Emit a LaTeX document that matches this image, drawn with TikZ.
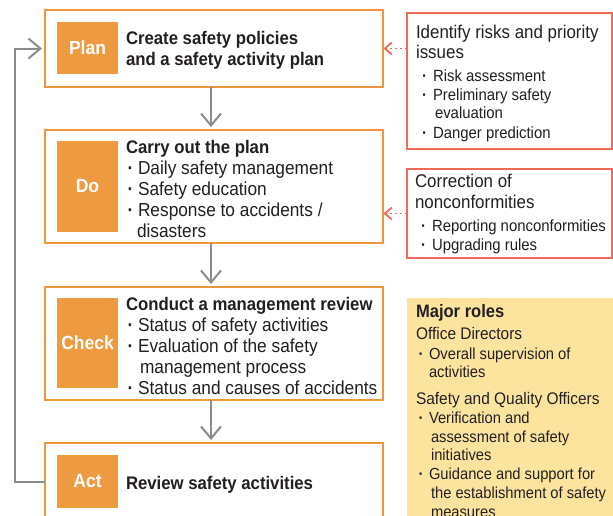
\documentclass[tikz,border=0pt]{standalone}
\usepackage{fontspec}
\setmainfont{Liberation Sans}[FakeStretch=0.92]
\usetikzlibrary{arrows.meta}
\definecolor{orng}{HTML}{EF963D}
\definecolor{lblorng}{HTML}{EE9A40}
\definecolor{redb}{HTML}{EF6A5A}
\definecolor{yel}{HTML}{FDE49E}
\definecolor{grayl}{HTML}{8C8C8E}
\definecolor{ink}{HTML}{231F20}
\newcommand\bl[1]{\makebox[#1][l]{\bfseries·}}
\begin{document}
\begin{tikzpicture}[x=1pt,y=-1pt,
  stagebox/.style={draw=orng,line width=2pt,fill=white,anchor=north west,inner sep=0pt,outer sep=0pt,minimum width=338pt},
  stagelbl/.style={fill=lblorng,text=white,font=\fontsize{19}{21}\selectfont\bfseries,anchor=north west,inner sep=0pt,outer sep=0pt,minimum width=61pt},
  sidebox/.style={draw=redb,line width=2pt,fill=white,anchor=north west,inner sep=0pt,outer sep=0pt,minimum width=205pt},
  txt/.style={anchor=base west,inner sep=0pt,outer sep=0pt,text=ink},
  mainhd/.style={txt,font=\fontsize{18.2}{21}\selectfont\bfseries},
  mainit/.style={txt,font=\fontsize{18.8}{21}\selectfont},
  sidehd/.style={txt,font=\fontsize{18.4}{21}\selectfont},
  sideit/.style={txt,font=\fontsize{16.2}{19}\selectfont},
  rolehd/.style={txt,font=\fontsize{18}{21}\selectfont\bfseries},
  rolesub/.style={txt,font=\fontsize{16.8}{19}\selectfont},
  roleit/.style={txt,font=\fontsize{16}{19}\selectfont},
  flow/.style={draw=grayl,line width=2pt,-{Straight Barb[length=12pt,width=20pt]}},
  feedback/.style={draw=redb,line width=1.6pt,dash pattern=on 2.5pt off 2.5pt,-{Straight Barb[length=7pt,width=12pt,line width=1.8pt]}}]
\useasboundingbox (0,0) rectangle (613,515);
\clip (0,0) rectangle (613,515);

% stage boxes
\node[stagebox,minimum height=77pt] (plan) at (45,10) {};
\node[stagebox,minimum height=113pt] (do) at (45,130) {};
\node[stagebox,minimum height=113pt] (check) at (45,287) {};
\node[stagebox,minimum height=110pt] (act) at (45,443) {};

\node[stagelbl,minimum height=52pt] (plab) at (57,22) {Plan};
\node[stagelbl,minimum height=91pt] (dlab) at (57,141) {Do};
\node[stagelbl,minimum height=90pt] (clab) at (57,298) {Check};
\node[stagelbl,minimum height=53pt] (alab) at (57,455) {Act};

% stage texts
\node[mainhd] (p1) at (126,44) {Create safety policies};
\node[mainhd] (p2) at (126,65) {and a safety activity plan};

\node[mainhd] (d1) at (126,153) {Carry out the plan};
\node[mainit] (d2) at (127.6,174) {\bl{10.4pt}Daily safety management};
\node[mainit] (d3) at (127.6,195) {\bl{10.4pt}Safety education};
\node[mainit] (d4) at (127.6,216) {\bl{10.4pt}Response to accidents /};
\node[mainit] (d5) at (137,237) {disasters};

\node[mainhd] (c1) at (126,310) {Conduct a management review};
\node[mainit] (c2) at (127.6,331) {\bl{10.4pt}Status of safety activities};
\node[mainit] (c3) at (127.6,352) {\bl{10.4pt}Evaluation of the safety};
\node[mainit] (c4) at (140,373) {management process};
\node[mainit] (c5) at (127.6,394) {\bl{10.4pt}Status and causes of accidents};

\node[mainhd] (a1) at (126,489) {Review safety activities};

% side boxes
\node[sidebox,minimum height=136pt] (risk) at (407,13) {};
\node[sidebox,minimum height=89pt] (ncf) at (407,169) {};
\node[fill=yel,anchor=north west,inner sep=0pt,minimum width=215pt,minimum height=240pt] (roles) at (407,298) {};

\node[sidehd] (r1) at (416,38) {Identify risks and priority};
\node[sidehd] (r2) at (416,58) {issues};
\node[sideit] (r3) at (422,81.7) {\bl{11pt}Risk assessment};
\node[sideit] (r4) at (422,100) {\bl{11pt}Preliminary safety};
\node[sideit] (r5) at (435,118.3) {evaluation};
\node[sideit] (r6) at (422,138.3) {\bl{11pt}Danger prediction};

\node[sidehd] (n1) at (415,187) {Correction of};
\node[sidehd] (n2) at (415,208) {nonconformities};
\node[sideit] (n3) at (421,231.7) {\bl{11pt}Reporting nonconformities};
\node[sideit] (n4) at (421,250) {\bl{11pt}Upgrading rules};

\node[rolehd] (m1) at (416,317) {Major roles};
\node[rolesub] (m2) at (416,339) {Office Directors};
\node[roleit] (m3) at (418.5,359) {\bl{10.5pt}Overall supervision of};
\node[roleit] (m4) at (429,377) {activities};
\node[rolesub] (m5) at (416,404) {Safety and Quality Officers};
\node[roleit] (m6) at (418.5,423) {\bl{10.5pt}Verification and};
\node[roleit] (m7) at (431,442) {assessment of safety};
\node[roleit] (m8) at (431,460) {initiatives};
\node[roleit] (m9) at (418.5,479) {\bl{10.5pt}Guidance and support for};
\node[roleit] (m10) at (431,498) {the establishment of safety};
\node[roleit] (m11) at (431,517) {measures};

% connectors
\draw[flow,shorten >=3pt] (211,0 |- plan.south) -- (211,0 |- do.north);
\draw[flow,shorten >=3pt] (211,0 |- do.south) -- (211,0 |- check.north);
\draw[flow,shorten >=3pt] (211,0 |- check.south) -- (211,0 |- act.north);
\draw[flow,shorten >=3pt] (act.west |- alab) -- ++(-30,0) |- (plan.west);

\draw[feedback,shorten >=0.5pt] (risk.west |- plan.east) -- (plan.east);
\draw[feedback,shorten >=0.5pt] (ncf.west) -- (ncf.west -| do.east);
\end{tikzpicture}
\end{document}
